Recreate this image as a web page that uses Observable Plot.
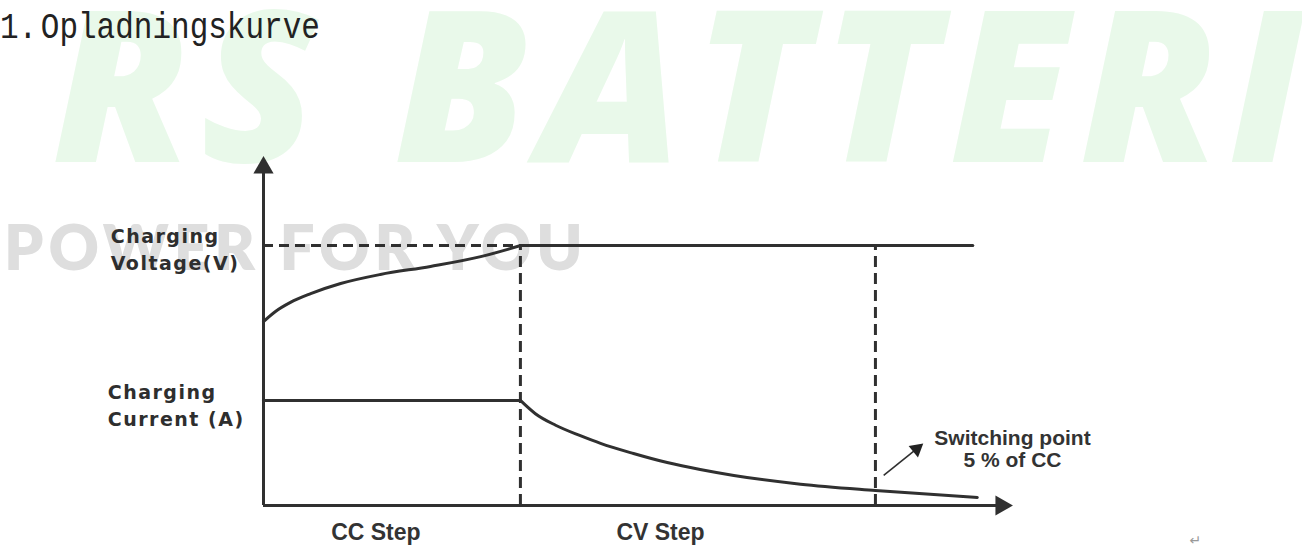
<!DOCTYPE html>
<html><head><meta charset="utf-8">
<script src="https://cdn.jsdelivr.net/npm/d3@7"></script>
<script src="https://cdn.jsdelivr.net/npm/@observablehq/plot@0.6"></script>
<style>
html,body{margin:0;padding:0;background:#fff;}
#wrap{position:relative;width:1302px;height:558px;overflow:hidden;background:#fff;}
.wm1{position:absolute;left:52px;top:-26px;font:italic 800 212px "Open Sans",sans-serif;color:#e9f9ea;white-space:nowrap;line-height:1;letter-spacing:11px;}
.wm2{position:absolute;left:4px;top:215px;font:800 62px "Lato",sans-serif;color:#dedede;white-space:nowrap;line-height:1;letter-spacing:5px;}
#title{position:absolute;left:0px;top:14px;font:400 31px "Liberation Mono",monospace;color:#222;white-space:nowrap;line-height:1;transform:scale(1,1.2);transform-origin:0 24px;word-spacing:-15px;}
#chart{position:absolute;left:0;top:0;}
</style></head>
<body>
<div id="wrap">
  <div class="wm1">RS BATTERI</div>
  <div class="wm2">POWER FOR YOU</div>
  <div id="chart"></div>
  <div id="title">1. Opladningskurve</div>
</div>
<script>
// ---- data (time units 0–100, level units 0–100) ----
const voltageCC_t = [0, 1.6, 3.6, 6.3, 10.3, 15.6, 22.3, 29.0, 32.6, 34.3];
const voltageCC_v = [52.7, 55.6, 58.2, 60.7, 63.6, 66.2, 68.5, 71.3, 73.4, 74.5];
const voltageCV_t = [34.3, 94.7];
const voltageCV_v = [74.5, 74.5];
const currentCC_t = [0, 34.3];
const currentCC_i = [30.1, 30.1];
const currentCV_t = [34.3, 36.3, 39.0, 42.3, 45.0, 49.4, 53.9, 58.3, 62.8, 71.7, 81.7, 95.3];
const currentCV_i = [30.1, 26.3, 23.0, 20.0, 17.8, 14.9, 12.3, 10.3, 8.6, 6.1, 4.3, 2.3];
const ccEnd = 34.3;          // end of CC step
const switchT = 81.7;        // switching point (5 % of CC)
const chargeV = 74.5;        // charging voltage level
const axisEndX = 98.5, axisEndY = 96.8;
const seriesLabels = ["Charging\nVoltage(V)", "Charging\nCurrent (A)"];
const seriesLabelT = [-20.4, -20.8];
const seriesLabelV = [73.9, 29.2];
const stepLabels = ["CC Step", "CV Step"];
const stepLabelT = [15.0, 53.0];
const stepLabelV = [-7.7, -7.7];
const noteText = "Switching point\n5 % of CC";
const noteT = 100.0, noteV = 16.3;
const noteArrowFrom = [82.8, 8.6], noteArrowTo = [87.2, 16.2];

const zip = (ts, vs) => ts.map((t, i) => ({t, v: vs[i]}));
const ink = "#303030";

const plot = Plot.plot({
  width: 1302, height: 558, margin: 0,
  style: {background: "transparent", overflow: "visible"},
  x: {domain: [0, 100], range: [263, 1012], axis: null},
  y: {domain: [0, 100], range: [505, 156], axis: null},
  marks: [
    // dashed guides
    Plot.ruleY([{v: chargeV, x1: 0, x2: ccEnd}], {y: "v", x1: "x1", x2: "x2", stroke: ink, strokeWidth: 3, strokeDasharray: "10,6"}),
    Plot.ruleX([ccEnd, switchT].map(t => ({t, y1: 0, y2: chargeV})), {x: "t", y1: "y1", y2: "y2", stroke: ink, strokeWidth: 3, strokeDasharray: "11,6"}),
    // axes
    Plot.ruleX([{t: 0, y1: 0, y2: axisEndY}], {x: "t", y1: "y1", y2: "y2", stroke: ink, strokeWidth: 3}),
    Plot.ruleY([{v: 0, x1: 0, x2: axisEndX}], {y: "v", x1: "x1", x2: "x2", stroke: ink, strokeWidth: 3}),
    Plot.dot([{t: axisEndX, v: 0, r: 90}, {t: 0, v: axisEndY, r: 0}], {x: "t", y: "v", symbol: "triangle", r: 7.5, fill: ink, rotate: "r"}),
    // curves
    Plot.line(zip(voltageCC_t, voltageCC_v), {x: "t", y: "v", curve: "monotone-x", stroke: ink, strokeWidth: 3}),
    Plot.line(zip(voltageCV_t, voltageCV_v), {x: "t", y: "v", stroke: ink, strokeWidth: 3}),
    Plot.line(zip(currentCC_t, currentCC_i), {x: "t", y: "v", stroke: ink, strokeWidth: 3}),
    Plot.line(zip(currentCV_t, currentCV_i), {x: "t", y: "v", curve: "monotone-x", stroke: ink, strokeWidth: 3}),
    // switching point note arrow
    Plot.link([{x1: noteArrowFrom[0], y1: noteArrowFrom[1], x2: noteArrowTo[0], y2: noteArrowTo[1]}], {x1: "x1", y1: "y1", x2: "x2", y2: "y2", stroke: ink, strokeWidth: 1.6}),
    Plot.dot([{t: noteArrowTo[0], v: noteArrowTo[1]}], {x: "t", y: "v", symbol: "triangle", r: 5.5, fill: "#222", rotate: 51}),
    // texts
    Plot.text(seriesLabels.map((s, i) => ({s, t: seriesLabelT[i], v: seriesLabelV[i]})), {x: "t", y: "v", text: "s", textAnchor: "start", fontFamily: "DejaVu Sans", fontWeight: "bold", fontSize: 19, lineHeight: 1.45, fill: "#2e2e2e"}),
    Plot.text(stepLabels.map((s, i) => ({s, t: stepLabelT[i], v: stepLabelV[i]})), {x: "t", y: "v", text: "s", fontFamily: "Liberation Sans", fontWeight: "bold", fontSize: 23, fill: "#333"}),
    Plot.text([{s: noteText, t: noteT, v: noteV}], {x: "t", y: "v", text: "s", fontFamily: "Liberation Sans", fontWeight: "bold", fontSize: 21, lineHeight: 1.05, fill: "#333"}),
    Plot.text([{s: "\u21B5", t: 124.4, v: -10}], {x: "t", y: "v", text: "s", fontFamily: "DejaVu Sans", fontSize: 14, fill: "#999"})
  ]
});
d3.select(plot).selectAll("text").filter(function() { return this.textContent.startsWith("Charging"); })
  .style("letter-spacing", "1.5px");
document.getElementById("chart").appendChild(plot);
</script>
</body></html>
